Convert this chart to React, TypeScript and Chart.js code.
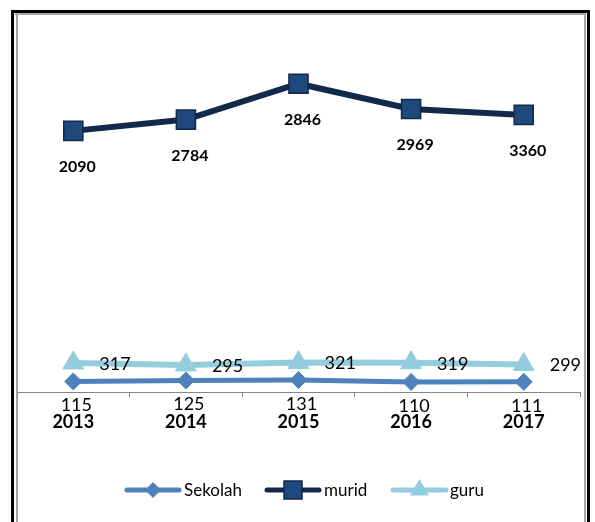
import React, { useEffect, useRef } from "react";
import { Chart, registerables } from "chart.js";

Chart.register(...registerables);

const years = ["2013", "2014", "2015", "2016", "2017"];
const sekolahValues = [115, 125, 131, 110, 111];
// murid: positions as plotted in the picture, and the labels printed next to them
const muridValues = [2846, 2969, 3360, 3085, 3020];
const muridLabels = ["2090", "2784", "2846", "2969", "3360"];
const guruValues = [317, 295, 321, 319, 299];
const seriesNames = ["Sekolah", "murid", "guru"];

const W = 595;
const H = 522;
const FONT = "Lato, 'Open Sans', sans-serif";

const C_SEK = "#4F81BD";
const C_MUR_LINE = "#12294A";
const C_MUR_FILL = "#1F497D";
const C_GURU = "#93CDDD";

const framePlugin = {
  id: "frame",
  beforeDraw(chart: any) {
    const ctx = chart.ctx;
    ctx.save();
    ctx.fillStyle = "#ffffff";
    ctx.fillRect(0, 0, W, H);
    ctx.fillStyle = "#a6a6a6";
    ctx.fillRect(15, 13, 571, 2);
    ctx.fillRect(16, 13, 2, H - 13);
    ctx.fillRect(584, 13, 2, H - 13);
    ctx.fillStyle = "#000000";
    ctx.fillRect(11, 10, 579, 3);
    ctx.fillRect(11, 10, 3, H - 10);
    ctx.fillRect(587, 10, 3, H - 10);
    ctx.restore();
  },
};

const labelPlugin = {
  id: "labels",
  afterDatasetsDraw(chart: any) {
    const ctx = chart.ctx;
    ctx.save();
    ctx.fillStyle = "#000";
    // Sekolah labels below
    const m0 = chart.getDatasetMeta(0);
    ctx.font = `18px ${FONT}`;
    ctx.textAlign = "center";
    ctx.textBaseline = "middle";
    m0.data.forEach((p: any, i: number) => {
      ctx.fillText(String(sekolahValues[i]), p.x + 3, p.y + 24);
    });
    // murid labels below
    const m1 = chart.getDatasetMeta(1);
    ctx.font = `bold 16px ${FONT}`;
    m1.data.forEach((p: any, i: number) => {
      ctx.fillText(muridLabels[i], p.x + 4, p.y + 36);
    });
    // guru labels right
    const m2 = chart.getDatasetMeta(2);
    ctx.font = `18px ${FONT}`;
    ctx.textAlign = "left";
    m2.data.forEach((p: any, i: number) => {
      ctx.fillText(String(guruValues[i]), p.x + 26, p.y + 1);
    });
    ctx.restore();
  },
};

function drawMarker(ctx: CanvasRenderingContext2D, kind: string, x: number, y: number) {
  ctx.beginPath();
  if (kind === "diamond") {
    const r = 8;
    ctx.moveTo(x - r, y);
    ctx.lineTo(x, y - r);
    ctx.lineTo(x + r, y);
    ctx.lineTo(x, y + r);
    ctx.closePath();
    ctx.fillStyle = C_SEK;
    ctx.fill();
  } else if (kind === "square") {
    const s = 9;
    ctx.rect(x - s, y - s, 2 * s, 2 * s);
    ctx.fillStyle = C_MUR_FILL;
    ctx.fill();
    ctx.lineWidth = 1.5;
    ctx.strokeStyle = C_MUR_LINE;
    ctx.stroke();
  } else {
    const r = 11;
    ctx.moveTo(x, y - r);
    ctx.lineTo(x + r * 0.866, y + r * 0.5);
    ctx.lineTo(x - r * 0.866, y + r * 0.5);
    ctx.closePath();
    ctx.fillStyle = C_GURU;
    ctx.fill();
  }
}

const legendPlugin = {
  id: "customLegend",
  afterDraw(chart: any) {
    const ctx = chart.ctx;
    const items = [
      { name: seriesNames[0], color: C_SEK, kind: "diamond", x0: 127, x1: 179, tx: 184 },
      { name: seriesNames[1], color: C_MUR_LINE, kind: "square", x0: 267, x1: 319, tx: 324 },
      { name: seriesNames[2], color: C_GURU, kind: "triangle", x0: 393, x1: 446, tx: 450 },
    ];
    const y = 490;
    ctx.save();
    items.forEach((it) => {
      ctx.beginPath();
      ctx.lineCap = "round";
      ctx.lineWidth = 5;
      ctx.strokeStyle = it.color;
      ctx.moveTo(it.x0, y);
      ctx.lineTo(it.x1, y);
      ctx.stroke();
      drawMarker(ctx, it.kind, (it.x0 + it.x1) / 2, y);
      ctx.fillStyle = "#000";
      ctx.font = `17px ${FONT}`;
      ctx.textAlign = "left";
      ctx.textBaseline = "middle";
      ctx.fillText(it.name, it.tx, y + 1);
    });
    ctx.restore();
  },
};

export default function App() {
  const ref = useRef<HTMLCanvasElement | null>(null);

  useEffect(() => {
    if (!ref.current) return;
    const chart = new Chart(ref.current, {
      type: "line",
      data: {
        labels: years,
        datasets: [
          {
            label: seriesNames[0],
            data: sekolahValues,
            borderColor: C_SEK,
            backgroundColor: C_SEK,
            borderWidth: 5,
            pointStyle: "rectRot",
            pointRadius: 8.5,
            pointBorderWidth: 1,
            pointBorderColor: C_SEK,
            pointBackgroundColor: C_SEK,
            tension: 0,
          },
          {
            label: seriesNames[1],
            data: muridValues,
            borderColor: C_MUR_LINE,
            backgroundColor: C_MUR_FILL,
            borderWidth: 6,
            pointStyle: "rect",
            pointRadius: 13.5,
            pointBorderWidth: 1.5,
            pointBorderColor: C_MUR_LINE,
            pointBackgroundColor: C_MUR_FILL,
            tension: 0,
          },
          {
            label: seriesNames[2],
            data: guruValues,
            borderColor: C_GURU,
            backgroundColor: C_GURU,
            borderWidth: 6,
            pointStyle: "triangle",
            pointRadius: 12,
            pointBorderWidth: 1,
            pointBorderColor: C_GURU,
            pointBackgroundColor: C_GURU,
            tension: 0,
          },
        ],
      },
      options: {
        responsive: false,
        animation: false,
        devicePixelRatio: 1,
        layout: { padding: { left: 17, right: 9, top: 25, bottom: 0 } },
        plugins: {
          legend: { display: false },
          tooltip: { enabled: false },
        },
        scales: {
          x: {
            type: "category",
            offset: true,
            grid: {
              offset: true,
              drawOnChartArea: false,
              drawTicks: true,
              tickLength: 5,
              color: "#868686",
            },
            border: { display: true, color: "#868686", width: 1 },
            ticks: {
              color: "#000",
              font: { family: FONT, size: 18, weight: "bold" },
              padding: 14,
              maxRotation: 0,
            },
            afterFit(scale: any) {
              scale.height = 130;
            },
          },
          y: {
            display: false,
            min: 0,
            max: 4000,
          },
        },
      },
      plugins: [framePlugin, labelPlugin, legendPlugin],
    } as any);
    return () => chart.destroy();
  }, []);

  return (
    <div style={{ position: "absolute", left: 0, top: 0, width: W, height: H, background: "#fff" }}>
      <canvas ref={ref} width={W} height={H} style={{ width: W, height: H, display: "block" }} />
    </div>
  );
}
